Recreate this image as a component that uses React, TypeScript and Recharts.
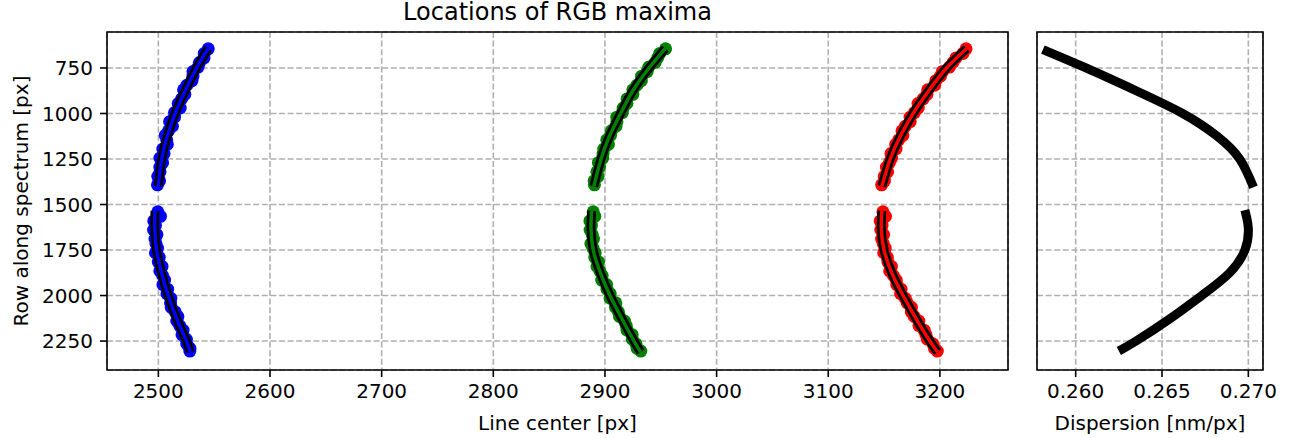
import React from 'react'
import {
  ComposedChart, Scatter, Line, XAxis, YAxis, CartesianGrid, ReferenceArea,
} from 'recharts'

const FONT = 'DejaVu Sans, Liberation Sans, sans-serif'

// rows along the spectrum where maxima were measured
const upperRows = [
  645, 670, 695, 720, 745, 770, 795, 820, 845, 870, 895, 920, 945, 970, 995, 1020,
  1045, 1070, 1095, 1120, 1145, 1170, 1195, 1220, 1245, 1270, 1295, 1320, 1345, 1370, 1392,
]
const lowerRows = [
  1540, 1565, 1590, 1615, 1640, 1665, 1690, 1715, 1740, 1765, 1790, 1815, 1840, 1865, 1890, 1915,
  1940, 1965, 1990, 2015, 2040, 2065, 2090, 2115, 2140, 2165, 2190, 2215, 2240, 2265, 2290, 2305,
]

// measured line centers
const blueUpperX = [
  2544.7, 2541.1, 2540.9, 2536.8, 2535.6, 2531, 2531, 2530.1, 2525.5, 2522.6, 2523.7, 2520.8,
  2517.8, 2519.6, 2514.5, 2514.5, 2510.1, 2512.6, 2509.1, 2506.2, 2507.5, 2508, 2504, 2505.1,
  2501.4, 2503.8, 2501.4, 2501.5, 2499.5, 2501.1, 2499.2,
]
const greenUpperX = [
  2954.3, 2949.1, 2947.2, 2945, 2939.3, 2937.8, 2932.8, 2932.6, 2928.5, 2925, 2925, 2919.8,
  2919.7, 2916.3, 2915.6, 2910.6, 2910.7, 2909.9, 2905.8, 2905, 2901.6, 2903.1, 2898.9, 2898.3,
  2898, 2894.1, 2895.1, 2892.8, 2893.8, 2890.3, 2890.6,
]
const redUpperX = [
  3223.4, 3220.7, 3214.4, 3211.7, 3208.6, 3202.2, 3200.5, 3196.4, 3195.3, 3189.1, 3188.4, 3185,
  3180.4, 3180.6, 3177.2, 3173.3, 3173.4, 3169, 3166.1, 3166.8, 3163.1, 3160.4, 3160.7, 3156.2,
  3156.8, 3154.8, 3152.1, 3153.2, 3150.2, 3150.4, 3147.8,
]
const blueLowerX = [
  2499.5, 2501.9, 2495.9, 2497.4, 2495.7, 2498.7, 2497, 2497.9, 2499.2, 2497.4, 2500.8, 2499.9,
  2503.3, 2501.3, 2503.8, 2505.6, 2504.1, 2508.3, 2507.7, 2511.2, 2510.9, 2511.5, 2515.1, 2517.5,
  2516.5, 2519.1, 2522.1, 2521.2, 2525.1, 2525.4, 2528.3, 2528.2,
]
const greenLowerX = [
  2889.5, 2890.9, 2886.5, 2887.9, 2886.7, 2888.6, 2889.7, 2887.4, 2889.3, 2891.2, 2890.9, 2894.3,
  2892.9, 2895.4, 2897.5, 2897.1, 2901.5, 2901.8, 2904.7, 2904.6, 2909.7, 2909.4, 2912.1, 2913,
  2917.5, 2919.1, 2919.8, 2924.4, 2924.5, 2927.8, 2928.8, 2932.1,
]
const redLowerX = [
  3149, 3151.3, 3146.5, 3148.2, 3147.1, 3149.6, 3147.8, 3149.3, 3151, 3149.7, 3152.9, 3153.4,
  3156.6, 3155, 3158.3, 3160.9, 3161.4, 3165.2, 3164.8, 3169, 3170.7, 3174.5, 3174.4, 3177,
  3181.2, 3181.3, 3185.9, 3187.5, 3188.8, 3193.7, 3195.1, 3197.7,
]

// polynomial fits
const upperFitRows = [643, 750, 875, 1000, 1125, 1250, 1400]
const lowerFitRows = [1535, 1631, 1750, 1877, 2000, 2125, 2250, 2310]
const blueUpperFit = [2544.6, 2534.2, 2524, 2515, 2508, 2503, 2500]
const greenUpperFit = [2954, 2939.5, 2925, 2914, 2904, 2896.5, 2890]
const redUpperFit = [3224, 3206, 3190, 3176, 3164.5, 3155.5, 3148]
const blueLowerFit = [2497, 2496.8, 2498.4, 2502.9, 2508.8, 2516.3, 2525.2, 2528.5]
const greenLowerFit = [2888, 2887.5, 2889.5, 2896, 2904.5, 2915, 2926, 2932]
const redLowerFit = [3148, 3147.5, 3150, 3157, 3167, 3178.5, 3191, 3198]

// dispersion along the rows
const dispUpperRows = [649, 750, 875, 1000, 1125, 1250, 1405]
const dispUpperVals = [0.2581, 0.2606, 0.2635, 0.2662, 0.2682, 0.2695, 0.2703]
const dispLowerRows = [1531, 1631, 1750, 1877, 2000, 2125, 2250, 2305]
const dispLowerVals = [0.2698, 0.27, 0.2698, 0.2689, 0.2673, 0.2655, 0.2635, 0.2625]

const xTicks = [2500, 2600, 2700, 2800, 2900, 3000, 3100, 3200]
const yTicks = [750, 1000, 1250, 1500, 1750, 2000, 2250]
const dispTicks = [0.26, 0.265, 0.27]

const X_DOMAIN: [number, number] = [2454, 3261]
const Y_DOMAIN: [number, number] = [552.4, 2409]
const D_DOMAIN: [number, number] = [0.25776, 0.27085]

const pts = (xs: number[], ys: number[]) => xs.map((x, i) => ({ x, y: ys[i] }))

const BLUE = '#0000ff'
const GREEN = '#008000'
const RED = '#ff0000'

const series = [
  { color: BLUE, scatter: [pts(blueUpperX, upperRows), pts(blueLowerX, lowerRows)], fit: [pts(blueUpperFit, upperFitRows), pts(blueLowerFit, lowerFitRows)] },
  { color: GREEN, scatter: [pts(greenUpperX, upperRows), pts(greenLowerX, lowerRows)], fit: [pts(greenUpperFit, upperFitRows), pts(greenLowerFit, lowerFitRows)] },
  { color: RED, scatter: [pts(redUpperX, upperRows), pts(redLowerX, lowerRows)], fit: [pts(redUpperFit, upperFitRows), pts(redLowerFit, lowerFitRows)] },
]

const tickStyle = { fill: '#000', fontSize: 20, fontFamily: FONT }
const tickLine = { stroke: '#000', strokeWidth: 1.6 }
const labelStyle = { fill: '#000', fontSize: 20, fontFamily: FONT }

const dot = (color: string) => (p: any) => <circle cx={p.cx} cy={p.cy} r={6.5} fill={color} />

const MAIN_W = 1010
const H = 438

export default function App() {
  return (
    <div style={{ position: 'absolute', left: 0, top: 0, width: 1303, height: H, background: '#fff' }}>
      <div
        style={{
          position: 'absolute', left: 107, top: 0, width: 901, textAlign: 'center',
          fontFamily: FONT, fontSize: 24, lineHeight: '24px', color: '#000',
        }}
      >
        Locations of RGB maxima
      </div>

      {/* scatter of the measured maxima */}
      <div style={{ position: 'absolute', left: 0, top: 0 }}>
        <ComposedChart width={MAIN_W} height={H} margin={{ top: 32, right: 2, bottom: 0, left: 0 }}>
          <CartesianGrid stroke="#b0b0b0" strokeWidth={1.6} strokeDasharray="6 2.6" />
          <XAxis
            type="number" dataKey="x" domain={X_DOMAIN} ticks={xTicks} allowDataOverflow
            height={68} tickSize={7} tickMargin={7} axisLine={false} tickLine={tickLine} tick={tickStyle}
            label={{ value: 'Line center [px]', position: 'insideBottom', offset: 8, style: labelStyle }}
          />
          <YAxis
            type="number" dataKey="y" domain={Y_DOMAIN} ticks={yTicks} reversed allowDataOverflow
            width={107} tickSize={7} tickMargin={7} axisLine={false} tickLine={tickLine} tick={tickStyle}
            label={{
              value: 'Row along spectrum [px]', angle: -90, position: 'insideLeft', offset: 20.5,
              style: { ...labelStyle, textAnchor: 'middle' },
            }}
          />
          {series.flatMap((s, i) =>
            s.scatter.map((d, j) => (
              <Scatter key={`s${i}${j}`} data={d} shape={dot(s.color)} isAnimationActive={false} />
            )),
          )}
        </ComposedChart>
      </div>

      {/* fitted curves on top of the points */}
      <div style={{ position: 'absolute', left: 0, top: 0 }}>
        <ComposedChart width={MAIN_W} height={H} margin={{ top: 32, right: 2, bottom: 68, left: 107 }}>
          <XAxis type="number" dataKey="x" domain={X_DOMAIN} allowDataOverflow hide />
          <YAxis type="number" dataKey="y" domain={Y_DOMAIN} reversed allowDataOverflow hide />
          {series.flatMap((s, i) =>
            s.fit.map((d, j) => (
              <Line
                key={`b${i}${j}`} data={d} dataKey="y" type="natural" stroke="#000"
                strokeWidth={9} dot={false} activeDot={false} isAnimationActive={false}
              />
            )),
          )}
          {series.flatMap((s, i) =>
            s.fit.map((d, j) => (
              <Line
                key={`c${i}${j}`} data={d} dataKey="y" type="natural" stroke={s.color}
                strokeWidth={3.5} dot={false} activeDot={false} isAnimationActive={false}
              />
            )),
          )}
          <ReferenceArea
            x1={X_DOMAIN[0]} x2={X_DOMAIN[1]} y1={Y_DOMAIN[0]} y2={Y_DOMAIN[1]}
            fill="none" fillOpacity={0} stroke="#000" strokeWidth={1.6} strokeOpacity={1} ifOverflow="visible"
          />
        </ComposedChart>
      </div>

      {/* dispersion panel */}
      <div style={{ position: 'absolute', left: MAIN_W, top: 0 }}>
        <ComposedChart width={293} height={H} margin={{ top: 32, right: 40, bottom: 0, left: 27 }}>
          <CartesianGrid stroke="#b0b0b0" strokeWidth={1.6} strokeDasharray="6 2.6" />
          <XAxis
            type="number" dataKey="x" domain={D_DOMAIN} ticks={dispTicks} allowDataOverflow
            height={68} tickSize={7} tickMargin={7} axisLine={false} tickLine={tickLine} tick={tickStyle}
            tickFormatter={(v: number) => v.toFixed(3)}
            label={{ value: 'Dispersion [nm/px]', position: 'insideBottom', offset: 8, style: labelStyle }}
          />
          <YAxis type="number" dataKey="y" domain={Y_DOMAIN} ticks={yTicks} reversed allowDataOverflow hide />
          <Line
            data={pts(dispUpperVals, dispUpperRows)} dataKey="y" type="natural" stroke="#000"
            strokeWidth={9} dot={false} activeDot={false} isAnimationActive={false}
          />
          <Line
            data={pts(dispLowerVals, dispLowerRows)} dataKey="y" type="natural" stroke="#000"
            strokeWidth={9} dot={false} activeDot={false} isAnimationActive={false}
          />
          <ReferenceArea
            x1={D_DOMAIN[0]} x2={D_DOMAIN[1]} y1={Y_DOMAIN[0]} y2={Y_DOMAIN[1]}
            fill="none" fillOpacity={0} stroke="#000" strokeWidth={1.6} strokeOpacity={1} ifOverflow="visible"
          />
        </ComposedChart>
      </div>
    </div>
  )
}
